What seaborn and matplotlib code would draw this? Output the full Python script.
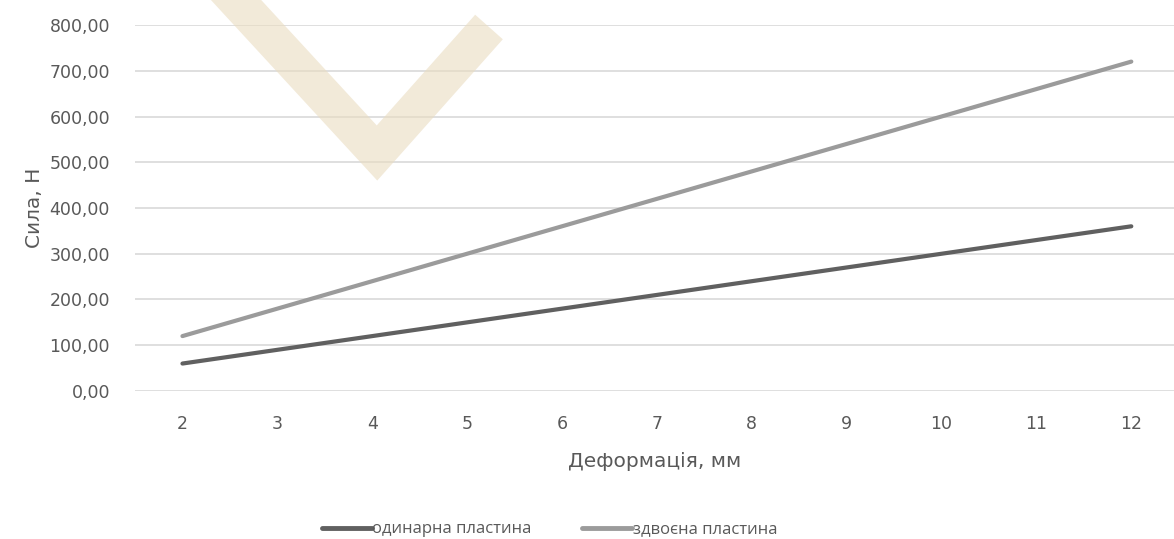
import matplotlib
matplotlib.use("Agg")
import matplotlib.pyplot as plt
import numpy as np
import pandas as pd
import seaborn as sns
from matplotlib.lines import Line2D
from matplotlib.patches import Polygon

deformation = [2, 3, 4, 5, 6, 7, 8, 9, 10, 11, 12]
single_plate = [60, 90, 120, 150, 180, 210, 240, 270, 300, 330, 360]
double_plate = [120, 180, 240, 300, 360, 420, 480, 540, 600, 660, 720]
series_names = ["одинарна пластина", "здвоєна пластина"]
y_ticks = [0, 100, 200, 300, 400, 500, 600, 700, 800]

df = pd.DataFrame({
    "x": deformation * 2,
    "y": single_plate + double_plate,
    "series": [series_names[0]] * len(deformation) + [series_names[1]] * len(deformation),
})

sns.set_theme(style="white")
plt.rcParams["font.family"] = ["DejaVu Sans"]

fig = plt.figure(figsize=(11.74, 5.39), dpi=100)
ax = fig.add_axes([0.115, 0.2746, 0.885, 0.6790])


def v_outline(a, b, c, half):
    # outline of a thick "V" with mitred corner (pixel coords, y down)
    a, b, c = map(np.asarray, (a, b, c))
    d1 = (b - a) / np.linalg.norm(b - a)
    d2 = (c - b) / np.linalg.norm(c - b)
    n1 = np.array([-d1[1], d1[0]])
    n2 = np.array([-d2[1], d2[0]])

    def meet(p, d, q, e):
        t = np.linalg.solve(np.column_stack([d, -e]), q - p)
        return p + t[0] * d

    pts = [a + n1 * half, meet(a + n1 * half, d1, c + n2 * half, d2), c + n2 * half,
           c - n2 * half, meet(a - n1 * half, d1, c - n2 * half, d2), a - n1 * half]
    return np.array(pts)


# watermark V (decoration, figure pixels)
W, H = 1174, 539
pts = v_outline((190, -50), (377, 153), (489, 27), 18.5)
pts[:, 0] /= W
pts[:, 1] = 1 - pts[:, 1] / H
fig.add_artist(Polygon(pts, closed=True, transform=fig.transFigure, facecolor="#eadcc0",
                       edgecolor="none", alpha=0.6, zorder=0.5))

sns.lineplot(data=df, x="x", y="y", hue="series", palette=["#606060", "#9b9b9b"],
             linewidth=3, ax=ax, legend=False, zorder=3)

ax.set_xlim(1.5, 12.45)
ax.set_ylim(0, 800)
ax.set_xticks(deformation)
ax.set_yticks(y_ticks)
ax.set_yticklabels([f"{v:.2f}".replace(".", ",") for v in y_ticks])
ax.yaxis.grid(True, color="#d9d9d9", linewidth=1.2)
ax.set_axisbelow(True)
for s in ax.spines.values():
    s.set_visible(False)
ax.tick_params(axis="both", length=0, labelsize=12.5, labelcolor="#595959")
ax.tick_params(axis="y", pad=18)
ax.tick_params(axis="x", pad=17)
ax.set_xlabel("Деформація, мм", fontsize=14.5, color="#595959", labelpad=14)
ax.set_ylabel("Сила, Н", fontsize=14.5, color="#595959", labelpad=4)
ax.patch.set_alpha(0)

handles = [Line2D([], [], color="#606060", linewidth=3.5),
           Line2D([], [], color="#9b9b9b", linewidth=3.5)]
fig.legend(handles, series_names, loc="lower center", bbox_to_anchor=(0.468, -0.025), ncol=2,
           frameon=False, prop={"family": ["Open Sans", "DejaVu Sans"], "size": 12},
           labelcolor="#595959", handlelength=3.0, handletextpad=0.05, columnspacing=3.0)

fig.savefig("out.png", dpi=100)
